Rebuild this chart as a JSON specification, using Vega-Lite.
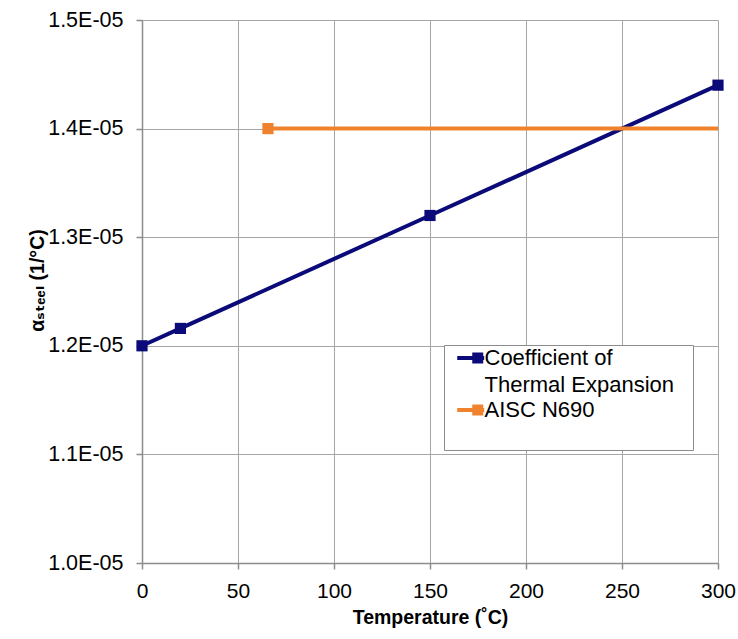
{
  "$schema": "https://vega.github.io/schema/vega-lite/v6.json",
  "width": 576,
  "height": 543,
  "autosize": {"type": "none"},
  "padding": {"left": 142, "top": 20, "right": 20, "bottom": 76},
  "background": "white",
  "config": {"view": {"stroke": null}, "font": "Liberation Sans, Arial, sans-serif"},
  "data": {
    "values": [
      {"series": "Coefficient of Thermal Expansion", "temperature": 0, "alpha": 1.2e-5},
      {"series": "Coefficient of Thermal Expansion", "temperature": 20, "alpha": 1.216e-5},
      {"series": "Coefficient of Thermal Expansion", "temperature": 150, "alpha": 1.32e-5},
      {"series": "Coefficient of Thermal Expansion", "temperature": 300, "alpha": 1.44e-5},
      {"series": "AISC N690", "temperature": 65.6, "alpha": 1.4e-5},
      {"series": "AISC N690", "temperature": 300, "alpha": 1.4e-5}
    ]
  },
  "encoding": {
    "x": {
      "field": "temperature",
      "type": "quantitative",
      "scale": {"domain": [0, 300], "nice": false, "zero": false},
      "axis": {
        "values": [0, 50, 100, 150, 200, 250, 300],
        "title": "Temperature (˚C)",
        "grid": true,
        "gridColor": "#a6a6a6",
        "gridWidth": 1,
        "domainColor": "#8c8c8c",
        "domainWidth": 1.5,
        "tickColor": "#8c8c8c",
        "tickWidth": 1.5,
        "tickSize": 6,
        "labelFont": "Liberation Sans",
        "labelFontSize": 21,
        "labelColor": "#000000",
        "labelPadding": 11,
        "labelFlush": false,
        "labelOverlap": false,
        "titleFont": "Liberation Sans",
        "titleFontSize": 19.5,
        "titleFontWeight": "bold",
        "titleColor": "#000000",
        "titleY": 45,
        "titleBaseline": "top"
      }
    },
    "y": {
      "field": "alpha",
      "type": "quantitative",
      "scale": {"domain": [1.0e-5, 1.5e-5], "nice": false, "zero": false},
      "axis": {
        "values": [1.0e-5, 1.1e-5, 1.2e-5, 1.3e-5, 1.4e-5, 1.5e-5],
        "labelExpr": "format(datum.value * 1e5, '.1f') + 'E-05'",
        "title": "αₛₜₑₑₗ (1/°C)",
        "grid": true,
        "gridColor": "#a6a6a6",
        "gridWidth": 1,
        "domainColor": "#8c8c8c",
        "domainWidth": 1.5,
        "tickColor": "#8c8c8c",
        "tickWidth": 1.5,
        "tickSize": 6,
        "labelFont": "Liberation Sans",
        "labelFontSize": 21.5,
        "labelColor": "#000000",
        "labelPadding": 13,
        "labelFlush": false,
        "labelOverlap": false,
        "titleFont": "Liberation Sans, DejaVu Sans",
        "titleFontSize": 19.5,
        "titleFontWeight": "bold",
        "titleColor": "#000000",
        "titleAngle": 270,
        "titleX": -99,
        "titleY": 260,
        "titleAlign": "center",
        "titleBaseline": "alphabetic"
      }
    },
    "color": {
      "field": "series",
      "type": "nominal",
      "scale": {
        "domain": ["Coefficient of Thermal Expansion", "AISC N690"],
        "range": ["#0a0a78", "#f0822d"]
      },
      "legend": {
        "orient": "none",
        "legendX": 302,
        "legendY": 325,
        "title": null,
        "padding": 2,
        "strokeColor": "#8c8c8c",
        "fillColor": "#ffffff",
        "symbolType": "M0.02,-0.186H2.53V0.186H0.02Z M1.42,-0.51H2.44V0.51H1.42Z",
        "symbolSize": 462.25,
        "symbolStrokeWidth": 0,
        "symbolOpacity": 1,
        "labelFont": "Liberation Sans",
        "labelFontSize": 22,
        "labelColor": "#000000",
        "labelOffset": 16.5,
        "labelLimit": 400,
        "rowPadding": 3,
        "labelExpr": "datum.label == 'AISC N690' ? ['AISC N690', ''] : ['Coefficient of', 'Thermal Expansion\u00a0\u00a0\u2009\u200b']",
        "encode": {
          "labels": {"update": {"lineHeight": {"value": 27}}},
          "symbols": {"update": {"fill": {"scale": "color", "field": "value"}, "stroke": {"value": "transparent"}}}
        }
      }
    }
  },
  "layer": [
    {"mark": {"type": "line", "strokeWidth": 4}},
    {
      "transform": [{"filter": "!(datum.series == 'AISC N690' && datum.temperature == 300)"}],
      "mark": {"type": "point", "shape": "square", "filled": true, "size": 125, "opacity": 1}
    }
  ]
}
